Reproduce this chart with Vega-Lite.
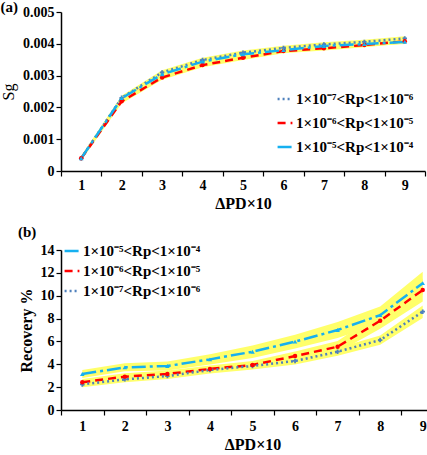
{
  "$schema": "https://vega.github.io/schema/vega-lite/v6.json",
  "padding": {"left": 0, "top": 0, "right": 2, "bottom": 0},
  "spacing": 14,
  "datasets": {
    "a": [
      {"s": "1×10⁻⁷<Rp<1×10⁻⁶", "x": 1, "y": 0.0004, "lo": 0.00033, "hi": 0.00047},
      {"s": "1×10⁻⁷<Rp<1×10⁻⁶", "x": 2, "y": 0.0023, "lo": 0.00223, "hi": 0.00237},
      {"s": "1×10⁻⁷<Rp<1×10⁻⁶", "x": 3, "y": 0.0031, "lo": 0.00303, "hi": 0.00317},
      {"s": "1×10⁻⁷<Rp<1×10⁻⁶", "x": 4, "y": 0.00349, "lo": 0.00342, "hi": 0.00356},
      {"s": "1×10⁻⁷<Rp<1×10⁻⁶", "x": 5, "y": 0.00372, "lo": 0.00365, "hi": 0.00379},
      {"s": "1×10⁻⁷<Rp<1×10⁻⁶", "x": 6, "y": 0.00387, "lo": 0.0038, "hi": 0.00394},
      {"s": "1×10⁻⁷<Rp<1×10⁻⁶", "x": 7, "y": 0.00398, "lo": 0.00391, "hi": 0.00405},
      {"s": "1×10⁻⁷<Rp<1×10⁻⁶", "x": 8, "y": 0.00406, "lo": 0.00399, "hi": 0.00413},
      {"s": "1×10⁻⁷<Rp<1×10⁻⁶", "x": 9, "y": 0.00417, "lo": 0.0041, "hi": 0.00424},
      {"s": "1×10⁻⁶<Rp<1×10⁻⁵", "x": 1, "y": 0.0004, "lo": 0.00033, "hi": 0.00047},
      {"s": "1×10⁻⁶<Rp<1×10⁻⁵", "x": 2, "y": 0.00219, "lo": 0.00212, "hi": 0.00226},
      {"s": "1×10⁻⁶<Rp<1×10⁻⁵", "x": 3, "y": 0.00294, "lo": 0.00287, "hi": 0.00301},
      {"s": "1×10⁻⁶<Rp<1×10⁻⁵", "x": 4, "y": 0.00333, "lo": 0.00326, "hi": 0.0034},
      {"s": "1×10⁻⁶<Rp<1×10⁻⁵", "x": 5, "y": 0.00356, "lo": 0.00349, "hi": 0.00363},
      {"s": "1×10⁻⁶<Rp<1×10⁻⁵", "x": 6, "y": 0.00377, "lo": 0.0037, "hi": 0.00384},
      {"s": "1×10⁻⁶<Rp<1×10⁻⁵", "x": 7, "y": 0.00386, "lo": 0.00379, "hi": 0.00393},
      {"s": "1×10⁻⁶<Rp<1×10⁻⁵", "x": 8, "y": 0.00396, "lo": 0.00389, "hi": 0.00403},
      {"s": "1×10⁻⁶<Rp<1×10⁻⁵", "x": 9, "y": 0.00408, "lo": 0.00401, "hi": 0.00415},
      {"s": "1×10⁻⁵<Rp<1×10⁻⁴", "x": 1, "y": 0.0004, "lo": 0.00033, "hi": 0.00047},
      {"s": "1×10⁻⁵<Rp<1×10⁻⁴", "x": 2, "y": 0.00229, "lo": 0.00222, "hi": 0.00236},
      {"s": "1×10⁻⁵<Rp<1×10⁻⁴", "x": 3, "y": 0.00304, "lo": 0.00297, "hi": 0.00311},
      {"s": "1×10⁻⁵<Rp<1×10⁻⁴", "x": 4, "y": 0.00344, "lo": 0.00337, "hi": 0.00351},
      {"s": "1×10⁻⁵<Rp<1×10⁻⁴", "x": 5, "y": 0.00367, "lo": 0.0036, "hi": 0.00374},
      {"s": "1×10⁻⁵<Rp<1×10⁻⁴", "x": 6, "y": 0.0038, "lo": 0.00373, "hi": 0.00387},
      {"s": "1×10⁻⁵<Rp<1×10⁻⁴", "x": 7, "y": 0.00393, "lo": 0.00386, "hi": 0.004},
      {"s": "1×10⁻⁵<Rp<1×10⁻⁴", "x": 8, "y": 0.00399, "lo": 0.00392, "hi": 0.00406},
      {"s": "1×10⁻⁵<Rp<1×10⁻⁴", "x": 9, "y": 0.00406, "lo": 0.00399, "hi": 0.00413}
    ],
    "b": [
      {"s": "1×10⁻⁵<Rp<1×10⁻⁴", "x": 1, "y": 3.15, "lo": 2.8, "hi": 3.5},
      {"s": "1×10⁻⁵<Rp<1×10⁻⁴", "x": 2, "y": 3.73, "lo": 3.38, "hi": 4.08},
      {"s": "1×10⁻⁵<Rp<1×10⁻⁴", "x": 3, "y": 3.85, "lo": 3.45, "hi": 4.25},
      {"s": "1×10⁻⁵<Rp<1×10⁻⁴", "x": 4, "y": 4.43, "lo": 3.98, "hi": 4.88},
      {"s": "1×10⁻⁵<Rp<1×10⁻⁴", "x": 5, "y": 5.1, "lo": 4.55, "hi": 5.65},
      {"s": "1×10⁻⁵<Rp<1×10⁻⁴", "x": 6, "y": 5.98, "lo": 5.38, "hi": 6.58},
      {"s": "1×10⁻⁵<Rp<1×10⁻⁴", "x": 7, "y": 7.0, "lo": 6.3, "hi": 7.7},
      {"s": "1×10⁻⁵<Rp<1×10⁻⁴", "x": 8, "y": 8.3, "lo": 7.55, "hi": 9.05},
      {"s": "1×10⁻⁵<Rp<1×10⁻⁴", "x": 9, "y": 11.1, "lo": 10.1, "hi": 12.1},
      {"s": "1×10⁻⁶<Rp<1×10⁻⁵", "x": 1, "y": 2.42, "lo": 2.12, "hi": 2.72},
      {"s": "1×10⁻⁶<Rp<1×10⁻⁵", "x": 2, "y": 2.92, "lo": 2.62, "hi": 3.22},
      {"s": "1×10⁻⁶<Rp<1×10⁻⁵", "x": 3, "y": 3.15, "lo": 2.85, "hi": 3.45},
      {"s": "1×10⁻⁶<Rp<1×10⁻⁵", "x": 4, "y": 3.59, "lo": 3.29, "hi": 3.89},
      {"s": "1×10⁻⁶<Rp<1×10⁻⁵", "x": 5, "y": 3.94, "lo": 3.59, "hi": 4.29},
      {"s": "1×10⁻⁶<Rp<1×10⁻⁵", "x": 6, "y": 4.72, "lo": 4.32, "hi": 5.12},
      {"s": "1×10⁻⁶<Rp<1×10⁻⁵", "x": 7, "y": 5.54, "lo": 5.04, "hi": 6.04},
      {"s": "1×10⁻⁶<Rp<1×10⁻⁵", "x": 8, "y": 7.81, "lo": 7.11, "hi": 8.51},
      {"s": "1×10⁻⁶<Rp<1×10⁻⁵", "x": 9, "y": 10.5, "lo": 9.5, "hi": 11.5},
      {"s": "1×10⁻⁷<Rp<1×10⁻⁶", "x": 1, "y": 2.24, "lo": 1.99, "hi": 2.49},
      {"s": "1×10⁻⁷<Rp<1×10⁻⁶", "x": 2, "y": 2.68, "lo": 2.43, "hi": 2.93},
      {"s": "1×10⁻⁷<Rp<1×10⁻⁶", "x": 3, "y": 2.97, "lo": 2.72, "hi": 3.22},
      {"s": "1×10⁻⁷<Rp<1×10⁻⁶", "x": 4, "y": 3.5, "lo": 3.2, "hi": 3.8},
      {"s": "1×10⁻⁷<Rp<1×10⁻⁶", "x": 5, "y": 3.85, "lo": 3.55, "hi": 4.15},
      {"s": "1×10⁻⁷<Rp<1×10⁻⁶", "x": 6, "y": 4.29, "lo": 3.99, "hi": 4.59},
      {"s": "1×10⁻⁷<Rp<1×10⁻⁶", "x": 7, "y": 5.1, "lo": 4.75, "hi": 5.45},
      {"s": "1×10⁻⁷<Rp<1×10⁻⁶", "x": 8, "y": 6.12, "lo": 5.72, "hi": 6.52},
      {"s": "1×10⁻⁷<Rp<1×10⁻⁶", "x": 9, "y": 8.6, "lo": 8.05, "hi": 9.15}
    ]
  },
  "config": {
    "view": {"stroke": null},
    "font": "Liberation Serif",
    "axis": {
      "grid": false,
      "domainColor": "#000000",
      "domainWidth": 1.5,
      "tickColor": "#000000",
      "tickWidth": 1.2,
      "tickSize": 5,
      "labelOverlap": false,
      "labelColor": "#000000",
      "labelFont": "Liberation Serif",
      "labelFontWeight": "bold",
      "labelFontSize": 14,
      "titleColor": "#000000",
      "titleFont": "Liberation Serif",
      "titleFontWeight": "bold",
      "titleFontSize": 16
    },
    "legend": {
      "labelFont": "Liberation Serif",
      "labelFontWeight": "bold",
      "labelFontSize": 15,
      "labelColor": "#000000",
      "labelLimit": 0,
      "labelOffset": 2,
      "symbolType": "stroke",
      "symbolSize": 220,
      "symbolStrokeWidth": 2.5,
      "padding": 0
    },
    "title": {"font": "Liberation Serif", "fontSize": 15, "fontWeight": "bold", "color": "#000000", "anchor": "start", "frame": "bounds"}
  },
  "vconcat": [
    {
      "title": {"text": "(a)", "offset": -10},
      "width": 364,
      "height": 159,
      "data": {"name": "a"},
      "encoding": {
        "x": {"field": "x", "type": "ordinal", "bandPosition": 0.5,
          "scale": {"type": "band", "paddingInner": 0, "paddingOuter": 0},
          "axis": {"title": "ΔPD×10", "labelAngle": 0, "tickBand": "extent", "labelPadding": 2, "titlePadding": 3}},
        "y": {"field": "y", "type": "quantitative", "scale": {"domain": [0, 0.005], "nice": false},
          "axis": {"title": "Sg", "titleFontWeight": "normal", "values": [0, 0.001, 0.002, 0.003, 0.004, 0.005],
            "labelExpr": "datum.value == 0 ? '0' : format(datum.value, '.3f')", "titlePadding": 6}}
      },
      "layer": [
        {
          "mark": {"type": "area", "color": "#ffff6a", "opacity": 1},
          "encoding": {
            "y": {"field": "lo", "type": "quantitative", "scale": {"domain": [0, 0.005], "nice": false},
              "axis": {"title": "Sg", "titleFontWeight": "normal", "values": [0, 0.001, 0.002, 0.003, 0.004, 0.005],
                "labelExpr": "datum.value == 0 ? '0' : format(datum.value, '.3f')", "titlePadding": 6}},
            "y2": {"field": "hi"},
            "detail": {"field": "s"}
          }
        },
        {
          "mark": {"type": "line", "strokeWidth": 2.5},
          "encoding": {
            "color": {"field": "s", "type": "nominal",
              "scale": {"domain": ["1×10⁻⁷<Rp<1×10⁻⁶", "1×10⁻⁶<Rp<1×10⁻⁵", "1×10⁻⁵<Rp<1×10⁻⁴"], "range": ["#4f81bd", "#ff0000", "#16b0f0"]},
              "legend": {"title": null, "orient": "none", "legendX": 215, "legendY": 78, "rowPadding": 7}},
            "strokeDash": {"field": "s", "type": "nominal",
              "scale": {"domain": ["1×10⁻⁷<Rp<1×10⁻⁶", "1×10⁻⁶<Rp<1×10⁻⁵", "1×10⁻⁵<Rp<1×10⁻⁴"], "range": [[2, 3], [8, 5], [14, 4, 3, 4]]},
              "legend": {"title": null, "orient": "none", "legendX": 215, "legendY": 78, "rowPadding": 7}}
          }
        },
        {
          "transform": [{"filter": "datum.s == '1×10⁻⁷<Rp<1×10⁻⁶'"}],
          "mark": {"type": "point", "shape": "cross", "filled": true, "size": 20, "color": "#4f81bd", "opacity": 1},
          "encoding": {}
        },
        {
          "transform": [{"filter": "datum.s == '1×10⁻⁶<Rp<1×10⁻⁵'"}],
          "mark": {"type": "point", "shape": "circle", "filled": true, "size": 20, "color": "#ff0000", "opacity": 1},
          "encoding": {}
        },
        {
          "transform": [{"filter": "datum.s == '1×10⁻⁵<Rp<1×10⁻⁴'"}],
          "mark": {"type": "point", "shape": "triangle-up", "filled": true, "size": 20, "color": "#16b0f0", "opacity": 1},
          "encoding": {}
        }
      ]
    },
    {
      "title": {"text": "(b)", "offset": 2},
      "width": 383,
      "height": 160,
      "data": {"name": "b"},
      "encoding": {
        "x": {"field": "x", "type": "ordinal", "bandPosition": 0.5,
          "scale": {"type": "band", "paddingInner": 0, "paddingOuter": 0},
          "axis": {"title": "ΔPD×10", "labelAngle": 0, "tickBand": "extent", "labelPadding": 4, "titlePadding": 3}},
        "y": {"field": "y", "type": "quantitative", "scale": {"domain": [0, 14], "nice": false},
          "axis": {"title": "Recovery %", "values": [0, 2, 4, 6, 8, 10, 12, 14], "titlePadding": 6}}
      },
      "layer": [
        {
          "mark": {"type": "area", "color": "#ffff6a", "opacity": 1},
          "encoding": {
            "y": {"field": "lo", "type": "quantitative", "scale": {"domain": [0, 14], "nice": false},
              "axis": {"title": "Recovery %", "values": [0, 2, 4, 6, 8, 10, 12, 14], "titlePadding": 6}},
            "y2": {"field": "hi"},
            "detail": {"field": "s"}
          }
        },
        {
          "mark": {"type": "line", "strokeWidth": 2.5},
          "encoding": {
            "color": {"field": "s", "type": "nominal",
              "scale": {"domain": ["1×10⁻⁵<Rp<1×10⁻⁴", "1×10⁻⁶<Rp<1×10⁻⁵", "1×10⁻⁷<Rp<1×10⁻⁶"], "range": ["#16b0f0", "#ff0000", "#4f81bd"]},
              "legend": {"title": null, "orient": "none", "legendX": 2, "legendY": -8, "rowPadding": 3}},
            "strokeDash": {"field": "s", "type": "nominal",
              "scale": {"domain": ["1×10⁻⁵<Rp<1×10⁻⁴", "1×10⁻⁶<Rp<1×10⁻⁵", "1×10⁻⁷<Rp<1×10⁻⁶"], "range": [[14, 4, 3, 4], [8, 5], [2, 3]]},
              "legend": {"title": null, "orient": "none", "legendX": 2, "legendY": -8, "rowPadding": 3}}
          }
        },
        {
          "transform": [{"filter": "datum.s == '1×10⁻⁷<Rp<1×10⁻⁶'"}],
          "mark": {"type": "point", "shape": "cross", "filled": true, "size": 20, "color": "#4f81bd", "opacity": 1},
          "encoding": {}
        },
        {
          "transform": [{"filter": "datum.s == '1×10⁻⁶<Rp<1×10⁻⁵'"}],
          "mark": {"type": "point", "shape": "circle", "filled": true, "size": 20, "color": "#ff0000", "opacity": 1},
          "encoding": {}
        },
        {
          "transform": [{"filter": "datum.s == '1×10⁻⁵<Rp<1×10⁻⁴'"}],
          "mark": {"type": "point", "shape": "triangle-up", "filled": true, "size": 20, "color": "#16b0f0", "opacity": 1},
          "encoding": {}
        }
      ]
    }
  ],
  "resolve": {"scale": {"color": "independent", "strokeDash": "independent", "x": "independent", "y": "independent"}}
}
